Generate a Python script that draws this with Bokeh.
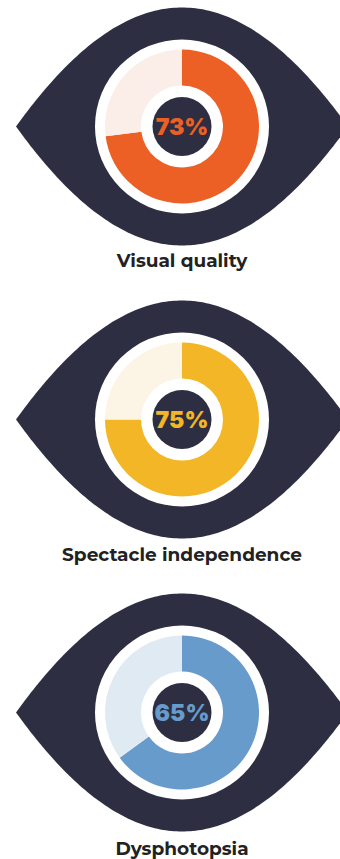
import math
import numpy as np
from bokeh.core.properties import value
from bokeh.embed import file_html
from bokeh.plotting import figure
from bokeh.resources import INLINE

WIDTH, HEIGHT = 340, 859

# Survey outcomes, one eye per metric
labels = ["Visual quality", "Spectacle independence", "Dysphotopsia"]
percent = [73, 75, 65]
main_colors = ["#EC6025", "#F2B626", "#669BCC"]
pale_colors = ["#FBEEE9", "#FCF4E5", "#E0EAF3"]
centers_y = [126, 419, 712]
labels_y = [260, 554, 848]

DARK = "#2D2E42"
INK = "#222222"
CENTER_X = 181.5


def bezier(p0, p1, p2, p3, n=60):
    t = np.linspace(0, 1, n)[:, None]
    pts = ((1 - t) ** 3) * np.array(p0) + 3 * ((1 - t) ** 2) * t * np.array(p1) \
        + 3 * (1 - t) * t ** 2 * np.array(p2) + t ** 3 * np.array(p3)
    return pts


def eye_outline(cx, cy):
    half_w, half_h = 166, 119
    c1, c2 = (0.35, 0.68), (0.68, 1.0)
    segs = []
    for sx, sy in [(-1, 1), (1, 1), (1, -1), (-1, -1)]:
        tip = (cx + sx * half_w, cy)
        top = (cx, cy + sy * half_h)
        a = (cx + sx * half_w * (1 - c1[0]), cy + sy * half_h * c1[1])
        b = (cx + sx * half_w * (1 - c2[0]), cy + sy * half_h * c2[1])
        segs.append(bezier(tip, a, b, top))
    path = np.vstack([segs[0], segs[1][::-1], segs[2], segs[3][::-1]])
    return path[:, 0], path[:, 1]


p = figure(width=WIDTH, height=HEIGHT, x_range=(0, WIDTH), y_range=(0, HEIGHT),
           output_backend="svg", toolbar_location=None, min_border=0)
p.axis.visible = False
p.grid.visible = False
p.outline_line_color = None
p.background_fill_color = "white"
p.border_fill_color = "white"

for label, pct, main, pale, cy_px, ly_px in zip(labels, percent, main_colors, pale_colors, centers_y, labels_y):
    cy = HEIGHT - cy_px
    ex, ey = eye_outline(CENTER_X, cy)
    p.patch(ex, ey, fill_color=DARK, line_color=None)
    p.circle([CENTER_X], [cy], radius=87, fill_color="white", line_color=None)

    # Ring runs clockwise from twelve o'clock
    top = math.pi / 2
    sweep = 2 * math.pi * pct / 100
    p.annular_wedge([CENTER_X], [cy], inner_radius=41, outer_radius=77,
                    start_angle=top - sweep, end_angle=top,
                    fill_color=main, line_color=None)
    p.annular_wedge([CENTER_X], [cy], inner_radius=41, outer_radius=77,
                    start_angle=top, end_angle=top - sweep + 2 * math.pi,
                    fill_color=pale, line_color=None)
    p.circle([CENTER_X], [cy], radius=29.5, fill_color=DARK, line_color=None)

    p.text([CENTER_X], [cy], text=[f"{pct}%"], text_align="center", text_baseline="middle",
           text_font=value("Inter Black"), text_font_style="bold", text_font_size="23px",
           text_color=main)
    p.text([CENTER_X], [HEIGHT - ly_px], text=[label], text_align="center", text_baseline="middle",
           text_font=value("Montserrat"), text_font_style="bold", text_font_size="18.5px",
           text_color=INK)

open("out.html", "w").write(file_html(p, INLINE))
